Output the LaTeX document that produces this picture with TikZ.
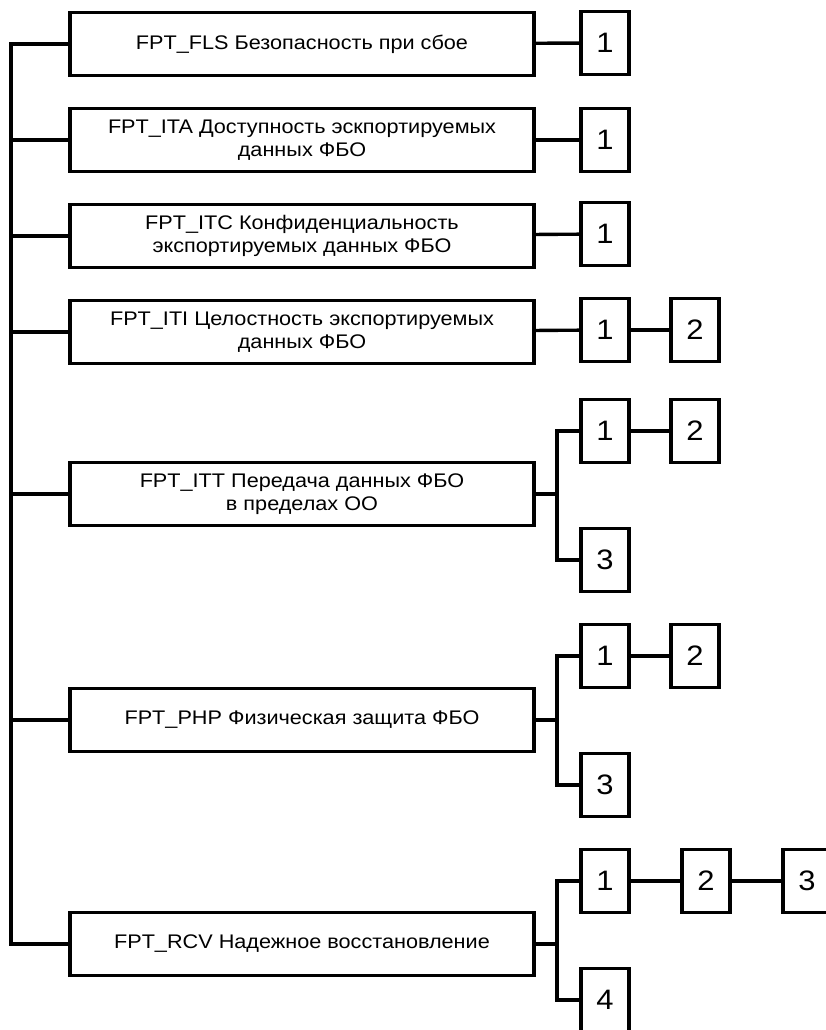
\documentclass[tikz,border=0pt]{standalone}
\usepackage{fontspec}
\setmainfont[FakeStretch=1.1]{Liberation Sans}
\begin{document}
\begin{tikzpicture}[x=0.025cm, y=-0.025cm, line width=2.4pt,
    fam/.style={draw, minimum width=11.6cm, minimum height=1.56cm, inner sep=1pt,
                align=center, font=\fontsize{14}{16}\selectfont},
    cmp/.style={draw, minimum width=1.2cm, minimum height=1.58cm, inner sep=1pt,
                font=\fontsize{20}{20}\selectfont}]
  \useasboundingbox (0,0) rectangle (825,1030);
  \coordinate (trunk) at (11,0);
  \coordinate (br) at (557,0);
  \node[fam] (fls) at (302,44) {FPT\_FLS Безопасность при сбое};
  \node[fam] (ita) at (302,140) {FPT\_ITA Доступность эскпортируемых\\данных ФБО};
  \node[fam] (itc) at (302,236) {FPT\_ITC Конфиденциальность\\экспортируемых данных ФБО};
  \node[fam] (iti) at (302,332) {FPT\_ITI Целостность экспортируемых\\данных ФБО};
  \node[fam] (itt) at (302,494) {FPT\_ITT Передача данных ФБО\\в пределах ОО};
  \node[fam] (php) at (302,720) {FPT\_PHP Физическая защита ФБО};
  \node[fam] (rcv) at (302,944) {FPT\_RCV Надежное восстановление};
  \node[cmp] (fls1) at (605,43) {1};
  \node[cmp] (ita1) at (605,140) {1};
  \node[cmp] (itc1) at (605,234) {1};
  \node[cmp] (iti1) at (605,330) {1};
  \node[cmp] (iti2) at (695,330) {2};
  \node[cmp] (itt1) at (605,431) {1};
  \node[cmp] (itt2) at (695,431) {2};
  \node[cmp] (itt3) at (605,560) {3};
  \node[cmp] (php1) at (605,656) {1};
  \node[cmp] (php2) at (695,656) {2};
  \node[cmp] (php3) at (605,785) {3};
  \node[cmp] (rcv1) at (605,881) {1};
  \node[cmp] (rcv2) at (706,881) {2};
  \node[cmp] (rcv3) at (807,881) {3};
  \node[cmp] (rcv4) at (605,1000) {4};
  \draw (fls.west) -| (trunk |- rcv.west) -- (rcv.west);
  \foreach \f in {ita,itc,iti,itt,php}
    \draw (\f.west) -- (trunk |- \f.west);
  \draw (fls) -- (fls1);
  \draw (ita) -- (ita1);
  \draw (itc) -- (itc1);
  \draw (iti) -- (iti1);
  \draw (iti1) -- (iti2);
  \draw (itt.east) -- (br |- itt.east);
  \draw (itt1.west) -| (br |- itt3.west) -- (itt3.west);
  \draw (itt1) -- (itt2);
  \draw (php.east) -- (br |- php.east);
  \draw (php1.west) -| (br |- php3.west) -- (php3.west);
  \draw (php1) -- (php2);
  \draw (rcv.east) -- (br |- rcv.east);
  \draw (rcv1.west) -| (br |- rcv4.west) -- (rcv4.west);
  \draw (rcv1) -- (rcv2);
  \draw (rcv2) -- (rcv3);
\end{tikzpicture}
\end{document}
